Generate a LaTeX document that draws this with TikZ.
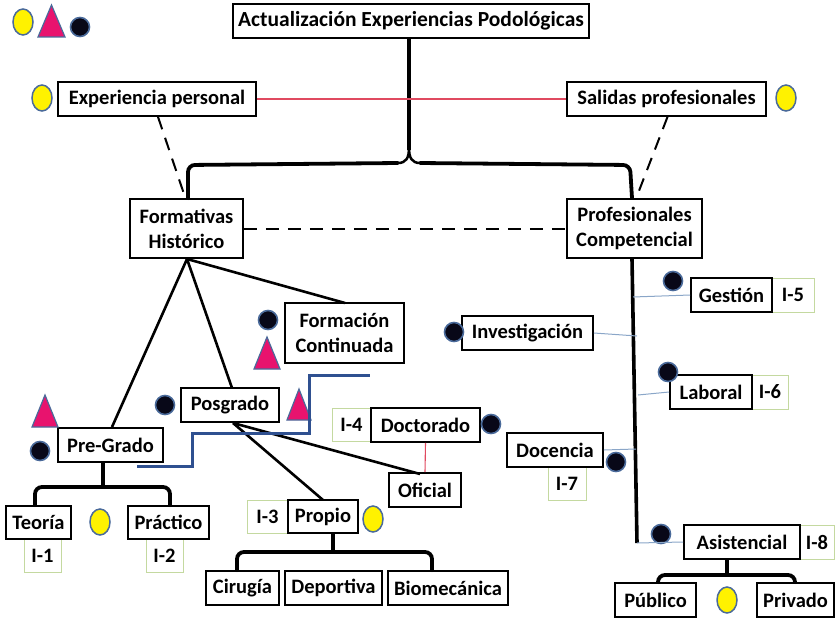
\documentclass[tikz,border=0pt]{standalone}
\usepackage{fontspec}
\setmainfont{Carlito}[BoldFont={Carlito Bold}]
\usetikzlibrary{shapes.geometric,calc}
\definecolor{bgrey}{HTML}{4A6A9A}
\definecolor{pinkc}{HTML}{E8136E}
\definecolor{igreen}{HTML}{C4D9A0}
\definecolor{linkb}{HTML}{8AA6C8}
\definecolor{redl}{HTML}{E04A60}
\definecolor{bluel}{HTML}{2F5090}
\definecolor{dotc}{HTML}{080818}
\begin{document}
\begin{tikzpicture}[x=1pt,y=-1pt,
  box/.style={draw=black, line width=1.8pt, fill=white, inner sep=0pt, align=center,
     font=\fontsize{20.5}{25}\selectfont\bfseries},
  ibox/.style={draw=igreen, line width=0.8pt, fill=white, inner sep=0pt,
     font=\fontsize{20.5}{25}\selectfont\bfseries},
  yel/.style={ellipse, draw=bgrey, line width=1.5pt, fill=yellow, minimum width=20pt, minimum height=26pt, inner sep=0pt},
  dotn/.style={circle, draw=bgrey, line width=1.6pt, fill=dotc, minimum size=19pt, inner sep=0pt},
  tri/.style={draw=bgrey, line width=1.2pt, fill=pinkc},
  brace/.style={line width=3.8pt, line cap=round, rounded corners=7pt},
  thickl/.style={line width=2.6pt},
  link/.style={draw=linkb, line width=1pt},
  redlink/.style={draw=redl, line width=1.1pt},
  dashl/.style={line width=2pt, dash pattern=on 13pt off 9pt}
]
\useasboundingbox (0,0) rectangle (835,618);

% legend
\node[yel] (ly) at (23,22) {};
\draw[tri] (51.5,5) -- (65,37) -- (38,37) -- cycle;
\node[dotn] (ld) at (80,27) {};

% I boxes (behind)
\node[ibox, minimum width=39pt, minimum height=33pt] (i4) at (351.5,425) {I-4};
\node[ibox, minimum width=41pt, minimum height=33pt] (i3) at (267.5,516.5) {I-3};
\node[ibox, minimum width=37pt, minimum height=33pt] (i1) at (42.5,555.5) {I-1};
\node[ibox, minimum width=37pt, minimum height=33pt] (i2) at (164.5,555.5) {I-2};
\node[ibox, minimum width=42pt, minimum height=34pt] (i5) at (793,295) {I-5};
\node[ibox, minimum width=36pt, minimum height=34pt] (i6) at (770,392) {I-6};
\node[ibox, minimum width=38pt, minimum height=33pt] (i7) at (567,483.5) {I-7};
\node[ibox, minimum width=34pt, minimum height=34pt] (i8) at (817,542) {I-8};

% main boxes
\node[box, minimum width=356pt, minimum height=34pt, font=\fontsize{21.5}{25}\selectfont\bfseries] (title) at (411,21) {Actualización Experiencias Podológicas};
\node[box, minimum width=198pt, minimum height=34pt] (exp) at (157,99) {Experiencia personal};
\node[box, minimum width=199pt, minimum height=34pt] (sal) at (666.5,99) {Salidas profesionales};
\node[box, minimum width=113pt, minimum height=59pt] (form) at (186.5,228.5) {Formativas\\Histórico};
\node[box, minimum width=135pt, minimum height=59pt] (prof) at (634.5,228.5) {Profesionales\\Competencial};
\node[box, minimum width=119pt, minimum height=60pt] (fcont) at (344.5,333) {Formación\\Continuada};
\node[box, minimum width=98pt, minimum height=34pt] (posg) at (230,405) {Posgrado};
\node[box, minimum width=105pt, minimum height=34pt] (pregr) at (110.5,445) {Pre-Grado};
\node[box, minimum width=109pt, minimum height=34pt] (doct) at (425.5,425) {Doctorado};
\node[box, minimum width=72pt, minimum height=34pt] (ofic) at (425,490) {Oficial};
\node[box, minimum width=70pt, minimum height=33pt] (propio) at (323,516.5) {Propio};
\node[box, minimum width=73pt, minimum height=34pt] (cir) at (242.5,588) {Cirugía};
\node[box, minimum width=97pt, minimum height=34pt] (dep) at (333.5,588) {Deportiva};
\node[box, minimum width=120pt, minimum height=34pt] (bio) at (448,588) {Biomecánica};
\node[box, minimum width=65pt, minimum height=33pt] (teoria) at (38.5,522.5) {Teoría};
\node[box, minimum width=81pt, minimum height=33pt] (pract) at (168.5,522.5) {Práctico};
\node[box, minimum width=81pt, minimum height=34pt] (gest) at (731.5,295) {Gestión};
\node[box, minimum width=131pt, minimum height=34pt] (inv) at (527.5,333) {Investigación};
\node[box, minimum width=82pt, minimum height=34pt] (lab) at (711,392) {Laboral};
\node[box, minimum width=96pt, minimum height=34pt] (doc) at (555,450) {Docencia};
\node[box, minimum width=116pt, minimum height=34pt] (asis) at (742,542) {Asistencial};
\node[box, minimum width=81pt, minimum height=34pt] (pub) at (655.5,600) {Público};
\node[box, minimum width=77pt, minimum height=34pt] (priv) at (795.5,600) {Privado};

% markers
\node[yel] (yexp) at (42,98) {};
\node[yel] (ysal) at (786,98) {};
\node[yel] (ytp) at (100,522) {};
\node[yel] (ypro) at (373,519) {};
\node[yel] (yas) at (727,600) {};
\draw[tri] (267,337) -- (280,369) -- (254,369) -- cycle;
\draw[tri] (299,389) -- (311,420) -- (287,420) -- cycle;
\draw[tri] (45,395) -- (58,427) -- (32,427) -- cycle;
\node[dotn] (dfc) at (268,320) {};
\node[dotn] (dpo) at (165,405) {};
\node[dotn] (dpr) at (40,451) {};
\node[dotn] (ddo) at (491,424) {};
\node[dotn] (dge) at (673,281) {};
\node[dotn] (din) at (454,332) {};
\node[dotn] (dla) at (668,372) {};
\node[dotn] (ddc) at (616,462) {};
\node[dotn] (das) at (661,534) {};

% top brace
\coordinate (tip) at (409,163);
\draw[line width=3.8pt] (title.south -| tip) -- (409,150);
\draw[brace] (form.north -| 188,0) -- (188,165) -- (398,163);
\draw[brace] (prof.north -| 632,0) -- (630,165) -- (420,163);
\draw[line width=2.5pt] (398,163) .. controls (406,163) and (409,158) .. (409,148);
\draw[line width=2.5pt] (420,163) .. controls (412,163) and (409,158) .. (409,148);

% red link
\draw[redlink] (exp.east) -- (sal.west);
\draw[redlink] (doct.south) -- (ofic.north);

% dashed
\draw[dashl] (exp.south) ++(1,0) -- (185,197);
\draw[dashl] (sal.south) ++(1,0) -- (637,196);
\draw[dashl] (form.east) -- (prof.west);

% formativas tree
\coordinate (fapex) at (187,259);
\draw[thickl] (fapex) -- (112,427);
\draw[thickl] (fapex) -- (232,388);
\draw[thickl] (fapex) -- (345,303);

% posgrado
\coordinate (papex) at (233,423);
\draw[thickl] (papex) -- (420,474);
\draw[thickl] (papex) -- (323,500);

% blue step line
\draw[bluel, line width=3pt] (137,466) -- (192,466) -- (192,433) -- (309,433) -- (309,375) -- (370,375);

% pregrado brace
\draw[brace] (teoria.north -| 35,0) -- (35,487) -- (170,487) -- (pract.north -| 170,0);
\draw[line width=3.8pt] (pregr.south -| 103,0) -- (103,487);

% propio brace
\draw[brace] (cir.north -| 237,0) -- (237,552) -- (432,552) -- (bio.north -| 432,0);
\draw[line width=3.8pt] (propio.south -| 333,0) -- (333,552);

% asistencial brace
\draw[brace] (pub.north -| 658,0) -- (658,575) -- (795,575) -- (priv.north -| 795,0);
\draw[line width=3.8pt] (asis.south -| 727,0) -- (727,575);

% right spine
\coordinate (sp0) at (632,259);
\coordinate (sp1) at (637,543);
\draw[line width=3.6pt] (sp0) -- (sp1);
\draw[link] (gest.west) -- (633,297);
\draw[link] (inv.east) -- (637,336);
\draw[link] (lab.west) -- (638,395);
\draw[link] (doc.east) -- (636,449);
\draw[link] (sp1) -- (asis.west);
\end{tikzpicture}
\end{document}
